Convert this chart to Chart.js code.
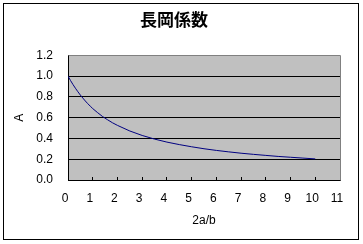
<!DOCTYPE html>
<html>
<head>
<meta charset="utf-8">
<script src="https://cdn.jsdelivr.net/npm/chart.js@4/dist/chart.umd.min.js"></script>
<style>
  html, body { margin: 0; padding: 0; background: #fff; }
  #wrap { width: 363px; height: 244px; }
</style>
</head>
<body>
<div id="wrap"><canvas id="chart" width="363" height="244"></canvas></div>
<script>
// ─── data ────────────────────────────────────────────────────────
const ratio = [0, 0.1, 0.2, 0.3, 0.4, 0.5, 0.6, 0.7, 0.8, 0.9, 1.0,
               1.2, 1.4, 1.6, 1.8, 2.0, 2.5, 3.0, 3.5, 4.0, 4.5, 5.0,
               5.5, 6.0, 6.5, 7.0, 7.5, 8.0, 8.5, 9.0, 9.5, 10.0];
const nagaoka = [1.000, 0.959, 0.920, 0.884, 0.850, 0.818, 0.789, 0.761, 0.735, 0.711, 0.688,
                 0.648, 0.611, 0.580, 0.551, 0.526, 0.472, 0.429, 0.394, 0.365, 0.341, 0.320,
                 0.301, 0.285, 0.271, 0.258, 0.247, 0.237, 0.227, 0.219, 0.211, 0.203];

const chartTitle = "長岡係数";
const xTitle = "2a/b";
const yTitle = "A";

const tickFont = { family: "'Liberation Sans', Arial, sans-serif", size: 12 };

// gray plot area + gray top/right border + outer frame
const frame = {
  id: "frame",
  beforeDraw(chart) {
    const { ctx, chartArea: a } = chart;
    ctx.save();
    ctx.fillStyle = "#c0c0c0";
    ctx.fillRect(a.left, a.top, a.right - a.left, a.bottom - a.top);
    ctx.restore();
  },
  afterDraw(chart) {
    const { ctx, chartArea: a } = chart;
    ctx.save();
    ctx.strokeStyle = "#808080";
    ctx.lineWidth = 1;
    ctx.beginPath();
    ctx.moveTo(Math.round(a.left) + 0.5, Math.round(a.top) + 0.5);
    ctx.lineTo(Math.round(a.right) + 0.5, Math.round(a.top) + 0.5);
    ctx.lineTo(Math.round(a.right) + 0.5, Math.round(a.bottom) + 0.5);
    ctx.stroke();
    ctx.strokeStyle = "#000";
    ctx.strokeRect(3.5, 3.5, 355, 236);
    ctx.restore();
  }
};

new Chart(document.getElementById("chart"), {
  type: "scatter",
  data: {
    datasets: [{
      data: ratio.map((x, i) => ({ x, y: nagaoka[i] })),
      showLine: true,
      borderColor: "#000080",
      borderWidth: 1,
      pointRadius: 0,
      tension: 0
    }]
  },
  options: {
    responsive: false,
    animation: false,
    layout: { padding: { top: 4, left: 8, right: 23, bottom: 12 } },
    plugins: {
      legend: { display: false },
      tooltip: { enabled: false },
      title: {
        display: true,
        text: chartTitle,
        color: "#000",
        font: { family: "'Noto Sans CJK JP', sans-serif", size: 17, weight: "bold" },
        padding: { top: 5, bottom: 26 }
      }
    },
    scales: {
      x: {
        type: "linear",
        min: 0,
        max: 11,
        afterFit: s => { s.height = 52; },
        // tick marks point up into the plot, labels sit a little left of them
        ticks: { stepSize: 1, color: "#000", font: tickFont, padding: 14,
                 labelOffset: -3, maxRotation: 0 },
        grid: { drawOnChartArea: false, drawTicks: true, tickLength: -3, color: "#000" },
        border: { display: true, color: "#000" },
        title: { display: true, text: xTitle, color: "#000", font: tickFont }
      },
      y: {
        min: 0,
        max: 1.2,
        afterFit: s => { s.width = 60; },
        ticks: { stepSize: 0.2, color: "#000", font: tickFont, padding: 15,
                 callback: v => v.toFixed(1) },
        grid: { color: "#000", drawTicks: false },
        border: { display: true, color: "#000" },
        title: { display: true, text: yTitle, color: "#000", font: tickFont }
      }
    }
  },
  plugins: [frame]
});
</script>
</body>
</html>
